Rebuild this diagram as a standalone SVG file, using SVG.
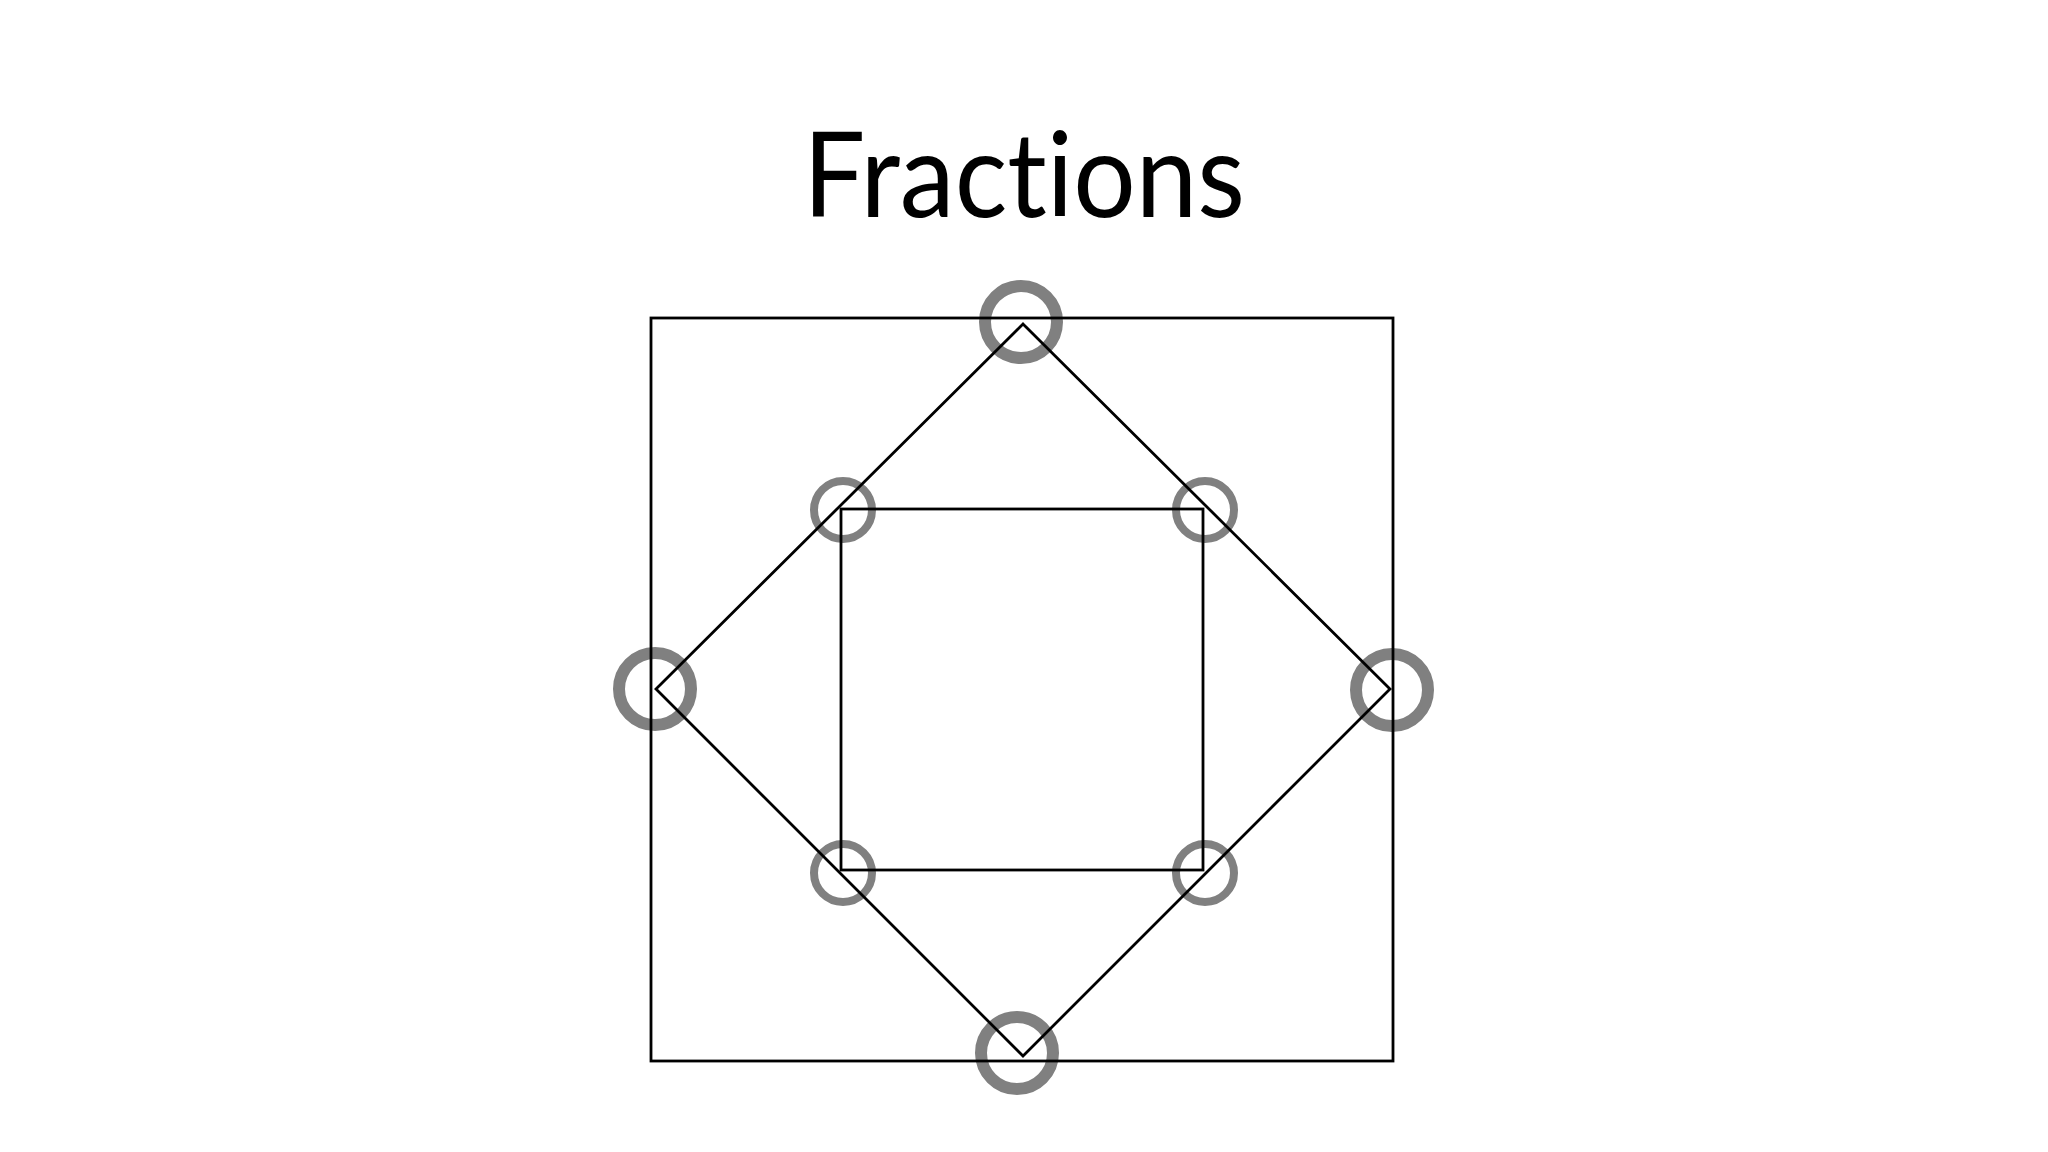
<svg xmlns="http://www.w3.org/2000/svg" width="2048" height="1152" viewBox="0 0 2048 1152">
  <style>
    .big { fill: none; stroke: #808080; stroke-width: 12; }
    .small { fill: none; stroke: #808080; stroke-width: 8; }
    .line { fill: none; stroke: #000000; stroke-width: 2.8; stroke-linejoin: miter; }
    .title { font-family: "Lato", "Open Sans", "Liberation Sans", sans-serif; font-size: 118px; fill: #000000; font-variant-ligatures: none; font-feature-settings: "liga" 0, "dlig" 0; }
  </style>
  <rect x="0" y="0" width="2048" height="1152" fill="#ffffff"/>
  <text class="title" x="1024" y="217" text-anchor="middle" textLength="442" lengthAdjust="spacingAndGlyphs">Fractions</text>
  <g id="markers">
    <circle class="big" cx="1021" cy="322" r="36"/>
    <circle class="big" cx="655" cy="689" r="36"/>
    <circle class="big" cx="1392" cy="690" r="36"/>
    <circle class="big" cx="1017" cy="1053" r="36"/>
    <circle class="small" cx="843" cy="510" r="29"/>
    <circle class="small" cx="1205" cy="510" r="29"/>
    <circle class="small" cx="843" cy="873" r="29"/>
    <circle class="small" cx="1205" cy="873" r="29"/>
  </g>
  <g id="shapes">
    <rect class="line" x="651" y="318" width="742" height="743"/>
    <polygon class="line" points="1023,324 1390,689 1023,1056 656,689"/>
    <rect class="line" x="841" y="509" width="362" height="361"/>
  </g>
</svg>
